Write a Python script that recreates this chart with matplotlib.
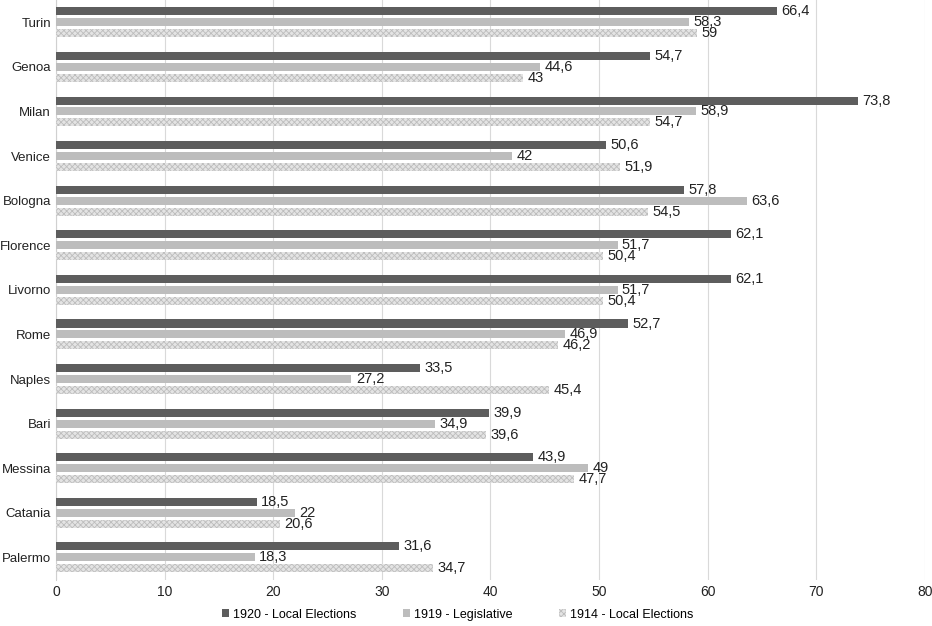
import matplotlib
matplotlib.use("Agg")
import matplotlib.pyplot as plt
from matplotlib.patches import Patch
import numpy as np

plt.rcParams['font.family'] = ['Liberation Sans', 'DejaVu Sans']
plt.rcParams['hatch.linewidth'] = 0.6

cities = ["Turin", "Genoa", "Milan", "Venice", "Bologna", "Florence", "Livorno",
          "Rome", "Naples", "Bari", "Messina", "Catania", "Palermo"]
v1920 = [66.4, 54.7, 73.8, 50.6, 57.8, 62.1, 62.1, 52.7, 33.5, 39.9, 43.9, 18.5, 31.6]
v1919 = [58.3, 44.6, 58.9, 42, 63.6, 51.7, 51.7, 46.9, 27.2, 34.9, 49, 22, 18.3]
v1914 = [59, 43, 54.7, 51.9, 54.5, 50.4, 50.4, 46.2, 45.4, 39.6, 47.7, 20.6, 34.7]
series_names = ["1920 - Local Elections", "1919 - Legislative", "1914 - Local Elections"]

def fmt(v):
    s = ("%g" % v)
    return s.replace(".", ",")

fig = plt.figure(figsize=(9.32, 6.26), dpi=100)
ax = fig.add_axes([0.060, 0.074, 0.9325, 0.926])

n = len(cities)
y = np.arange(n)
h = 0.18
off = 0.245
c1, c2 = "#5d5d5d", "#bdbdbd"
c3f, c3e = "#e4e4e4", "#bdbdbd"
b1 = ax.barh(y - off, v1920, height=h, color=c1, zorder=3)
b2 = ax.barh(y, v1919, height=h, color=c2, zorder=3)
b3 = ax.barh(y + off, v1914, height=h, color=c3f, edgecolor=c3e,
             hatch="xxxxxx", linewidth=0, zorder=3)

for bars, vals in ((b1, v1920), (b2, v1919), (b3, v1914)):
    for bar, v in zip(bars, vals):
        ax.text(bar.get_width() + 0.4, bar.get_y() + bar.get_height() / 2, fmt(v),
                va="center", ha="left", fontsize=10.5, color="#222222")

ax.set_xlim(0, 80)
ax.set_ylim(n - 0.5, -0.5)
ax.set_xticks(range(0, 81, 10))
ax.set_yticks(y)
ax.set_yticklabels(cities, fontsize=9.5)
ax.tick_params(axis="both", length=0, colors="#222222")
ax.tick_params(axis="x", labelsize=10, pad=4)
ax.tick_params(axis="y", pad=3.5)
ax.grid(axis="x", color="#d9d9d9", linewidth=0.8, zorder=0)
for s in ["top", "right", "bottom"]:
    ax.spines[s].set_visible(False)
ax.spines["left"].set_color("#d0d0d0")

handles = [Patch(facecolor=c1), Patch(facecolor=c2),
           Patch(facecolor=c3f, edgecolor=c3e, hatch="xxxxxx", linewidth=0)]
fig.legend(handles, series_names, loc="center", bbox_to_anchor=(0.491, 0.018), ncol=3,
           frameon=False, fontsize=9, handlelength=0.6, handleheight=0.6,
           handletextpad=0.3, columnspacing=3.7)

fig.savefig("out.png", dpi=100)
